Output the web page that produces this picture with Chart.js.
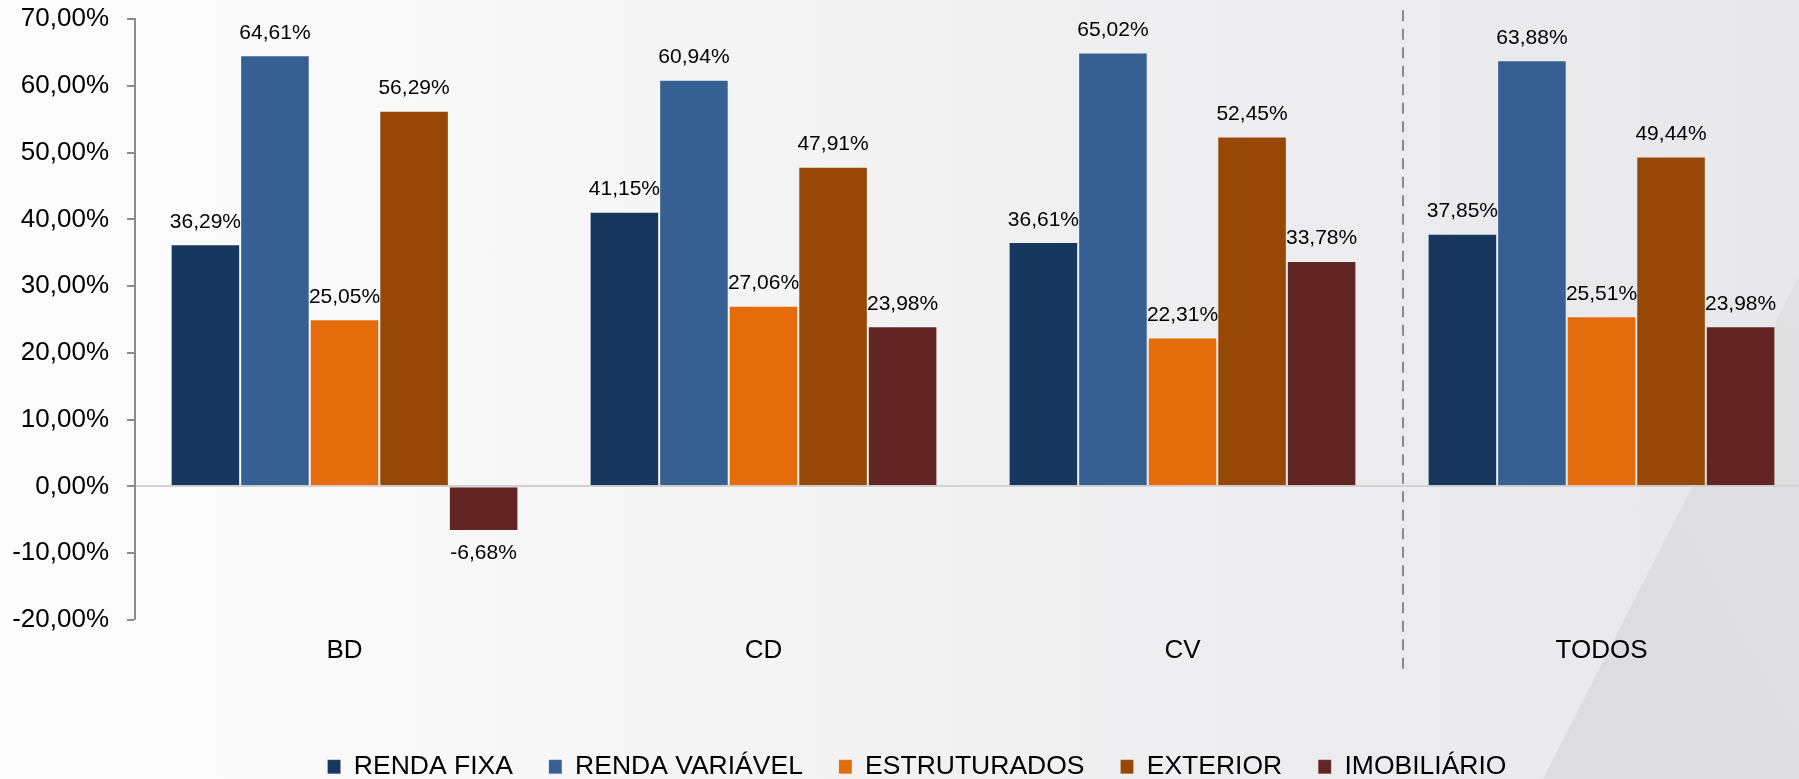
<!DOCTYPE html>
<html>
<head>
<meta charset="utf-8">
<script src="https://cdn.jsdelivr.net/npm/chart.js@4.4.1/dist/chart.umd.min.js"></script>
<style>
  html, body { margin:0; padding:0; }
  body {
    width:1799px; height:779px; overflow:hidden; position:relative;
    background: linear-gradient(90deg, #fcfcfc 0%, #f8f8f8 25%, #f2f2f3 50%, #ececee 75%, #e8e8ea 100%);
  }
  #wedge {
    position:absolute; left:0; top:0; width:1799px; height:779px;
    clip-path: polygon(1808px 259px, 1543px 779px, 1799px 779px, 1799px 259px);
    background: linear-gradient(62deg, #d9d9db 0%, #dedee0 82%, #e3e3e5 100%);
  }
  #wrap { position:absolute; left:0; top:0; width:1811px; height:800px; }
</style>
</head>
<body>
<div id="wedge"></div>
<div id="wrap"><canvas id="c" width="1811" height="800"></canvas></div>
<script>
// ---- data ----
const categories = ['BD', 'CD', 'CV', 'TODOS'];
const seriesNames = ['RENDA FIXA', 'RENDA VARIÁVEL', 'ESTRUTURADOS', 'EXTERIOR', 'IMOBILIÁRIO'];
const rendaFixa     = [36.29, 41.15, 36.61, 37.85];
const rendaVariavel = [64.61, 60.94, 65.02, 63.88];
const estruturados  = [25.05, 27.06, 22.31, 25.51];
const exterior      = [56.29, 47.91, 52.45, 49.44];
const imobiliario   = [-6.68, 23.98, 33.78, 23.98];
const yMin = -20, yMax = 70, yStep = 10;

const seriesValues = [rendaFixa, rendaVariavel, estruturados, exterior, imobiliario];
const seriesColors = ['#17375E', '#366092', '#E46C0A', '#974806', '#632523'];

const FONT = 'Arial, "Liberation Sans", sans-serif';
const fmt = v => v.toFixed(2).replace('.', ',') + '%';

const dataLabels = {
  id: 'dataLabels',
  afterDatasetsDraw(chart) {
    const ctx = chart.ctx;
    ctx.save();
    ctx.font = '21px ' + FONT;
    ctx.fillStyle = '#000';
    ctx.textAlign = 'center';
    ctx.textBaseline = 'alphabetic';
    chart.data.datasets.forEach((ds, i) => {
      chart.getDatasetMeta(i).data.forEach((bar, j) => {
        const v = ds.data[j];
        const y = v >= 0 ? bar.y - 16.5 : bar.y + 28.5;
        ctx.fillText(fmt(v), bar.x, y);
      });
    });
    ctx.restore();
  }
};

const divider = {
  id: 'divider',
  beforeDatasetsDraw(chart) {
    const x = chart.scales.x;
    const a = chart.chartArea;
    const px = (x.getPixelForValue(2) + x.getPixelForValue(3)) / 2 + 11;
    const ctx = chart.ctx;
    ctx.save();
    ctx.strokeStyle = '#8a8a8a';
    ctx.lineWidth = 2;
    ctx.setLineDash([11, 7.5]);
    ctx.beginPath();
    ctx.moveTo(px, a.top - 9);
    ctx.lineTo(px, a.bottom + 49);
    ctx.stroke();
    ctx.restore();
  }
};

// shift the legend a little to the right (the reference legend is centred slightly right of the canvas centre)
const legendShift = {
  id: 'legendShift',
  afterLayout(chart) {
    const lg = chart.legend;
    if (lg) { lg.left += 23; }
  }
};

new Chart(document.getElementById('c'), {
  type: 'bar',
  data: {
    labels: categories,
    datasets: seriesNames.map((name, i) => ({
      label: name,
      data: seriesValues[i],
      backgroundColor: seriesColors[i],
      borderColor: 'rgba(255,255,255,0.15)',
      borderWidth: 1,
      categoryPercentage: 0.83,
      barPercentage: 1.0
    }))
  },
  options: {
    responsive: false,
    animation: false,
    devicePixelRatio: 1,
    layout: { padding: { left: 0, right: 0, top: 19.3, bottom: 10 } },
    plugins: {
      tooltip: { enabled: false },
      legend: {
        position: 'bottom',
        labels: {
          font: { family: FONT, size: 26.5 },
          color: '#000',
          boxWidth: 13,
          boxHeight: 14,
          padding: 36
        }
      }
    },
    scales: {
      x: {
        offset: true,
        grid: { display: false, drawTicks: false },
        border: { display: false },
        ticks: { font: { family: FONT, size: 26 }, color: '#000', padding: 15, maxRotation: 0 },
        afterFit(s) { s.height = 97.7; }
      },
      y: {
        min: yMin, max: yMax,
        ticks: {
          stepSize: yStep,
          font: { family: FONT, size: 26 }, color: '#000', padding: 18,
          callback: v => fmt(v)
        },
        grid: {
          drawOnChartArea: true,
          drawTicks: true,
          tickLength: 8,
          tickColor: '#8c8c8c',
          tickWidth: 2,
          color: c => (c.tick && c.tick.value === 0) ? '#d2d2d2' : 'rgba(0,0,0,0)',
          lineWidth: c => (c.tick && c.tick.value === 0) ? 2 : 0
        },
        border: { display: true, color: '#8c8c8c', width: 2 },
        afterFit(s) { s.width = 135; s.paddingTop = 0; s.paddingBottom = 0; }
      }
    }
  },
  plugins: [divider, dataLabels, legendShift]
});
</script>
</body>
</html>
